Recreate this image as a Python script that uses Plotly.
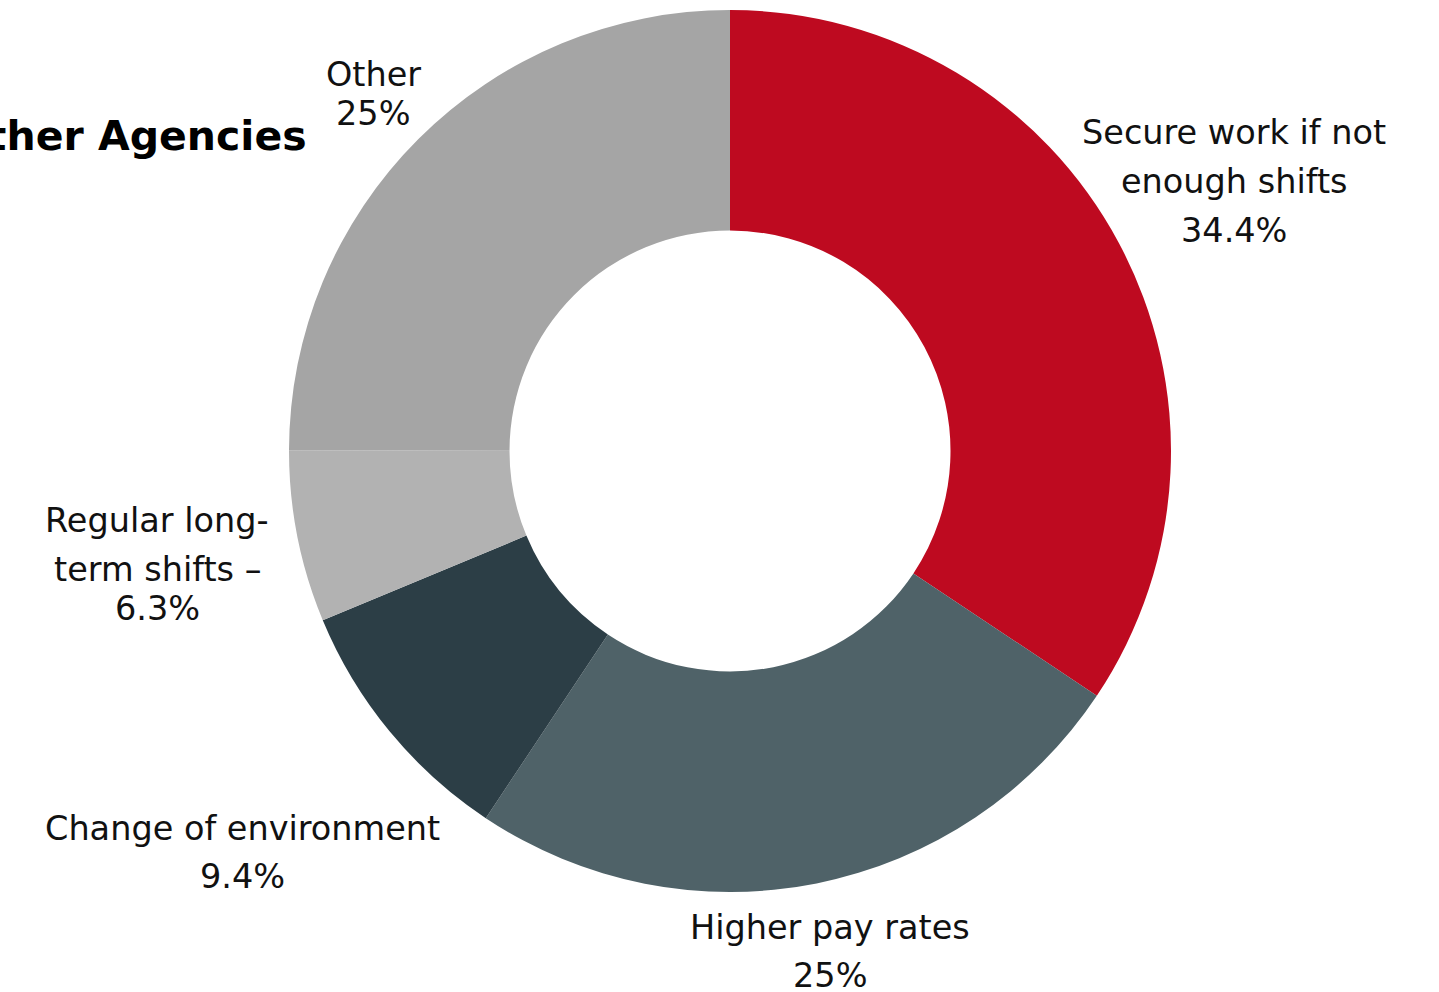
import math
import plotly.graph_objects as go

# Reasons for working with other agencies (share of responses, %)
labels = [
    "Secure work if not enough shifts",
    "Higher pay rates",
    "Change of environment",
    "Regular long-term shifts",
    "Other",
]
values = [34.4, 25, 9.4, 6.3, 25]
colors = ["#BE0A20", "#4F6268", "#2C3E46", "#B2B2B2", "#A5A5A5"]

# how each outside label is broken into lines ({v} = the slice value)
label_lines = [
    ["Secure work if not", "enough shifts", "{v}%"],
    ["Higher pay rates", "{v}%"],
    ["Change of environment", "{v}%"],
    ["Regular long-", "term shifts –", "{v}%"],
    ["Other", "{v}%"],
]

# label placement: distance of label centre from pie centre (px) and line gaps (px)
label_dist = [572, 510, 632, 584, 505]
line_gaps = [[49, 49], [48], [48], [49, 39], [39]]

W, H = 1439, 992
cx, cy, r = 730, 451, 441  # pie centre / outer radius in pixels
LABEL_FONT = dict(family="DejaVu Sans, sans-serif", size=33.5, color="#111111")

fig = go.Figure(
    go.Pie(
        labels=labels,
        values=values,
        textinfo="none",
        hole=0.5,
        sort=False,
        direction="clockwise",
        rotation=0,
        marker=dict(colors=colors, line=dict(width=0)),
        showlegend=False,
        hoverinfo="label+percent",
        domain=dict(
            x=[(cx - r) / W, (cx + r) / W],
            y=[(H - (cy + r)) / H, (H - (cy - r)) / H],
        ),
    )
)

# outside labels, placed along each slice's mid-angle (clockwise from 12 o'clock)
total = sum(values)
cum = 0.0
for lines, v, d, gaps in zip(label_lines, values, label_dist, line_gaps):
    mid = (cum + v / 2) / total * 2 * math.pi
    cum += v
    lx = cx + d * math.sin(mid)
    ly = cy - d * math.cos(mid)
    offs = [0.0]
    for g in gaps:
        offs.append(offs[-1] + g)
    shift = offs[-1] / 2
    for line, o in zip(lines, offs):
        fig.add_annotation(
            text=line.format(v=f"{v:g}"),
            xref="paper", yref="paper",
            x=lx / W, y=1 - (ly - shift + o) / H,
            xanchor="center", yanchor="middle",
            showarrow=False,
            font=LABEL_FONT,
        )

fig.add_annotation(
    text="<b>Other Agencies</b>",
    xref="paper", yref="paper",
    x=309 / W, y=(H - 136) / H,
    xanchor="right", yanchor="middle",
    showarrow=False,
    font=dict(family="DejaVu Sans, sans-serif", size=41, color="#000000"),
)

fig.update_layout(
    width=W, height=H,
    margin=dict(l=0, r=0, t=0, b=0),
    paper_bgcolor="white",
    plot_bgcolor="white",
)

fig.write_html("out.html")
